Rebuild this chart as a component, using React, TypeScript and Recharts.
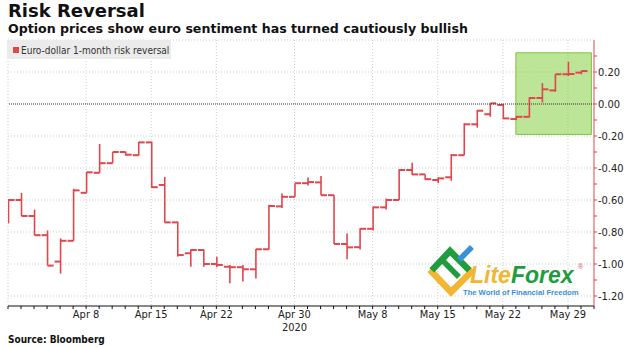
import { ComposedChart, Bar, XAxis, YAxis, CartesianGrid, ReferenceLine, ReferenceArea } from 'recharts';

// one entry per weekday (FX trades every weekday)
const dates = [
  'Mar 31', 'Apr 1', 'Apr 2', 'Apr 3',
  'Apr 6', 'Apr 7', 'Apr 8', 'Apr 9', 'Apr 10',
  'Apr 13', 'Apr 14', 'Apr 15', 'Apr 16', 'Apr 17',
  'Apr 20', 'Apr 21', 'Apr 22', 'Apr 23', 'Apr 24',
  'Apr 27', 'Apr 28', 'Apr 29', 'Apr 30', 'May 1',
  'May 4', 'May 5', 'May 6', 'May 7', 'May 8',
  'May 11', 'May 12', 'May 13', 'May 14', 'May 15',
  'May 18', 'May 19', 'May 20', 'May 21', 'May 22',
  'May 25', 'May 26', 'May 27', 'May 28', 'May 29',
  'Jun 1',
];

const openVals = [
  -0.73, -0.6, -0.7, -0.82,
  -0.985, -0.855, -0.555, -0.43, -0.37,
  -0.3, -0.32, -0.24, -0.506, -0.74,
  -0.933, -0.9125, -1.0, -1.017, -1.02,
  -1.033, -0.908, -0.64, -0.58, -0.495,
  -0.49, -0.57, -0.875, -0.895, -0.78,
  -0.646, -0.6, -0.4125, -0.44, -0.475,
  -0.458, -0.32, -0.127, -0.064, -0.006,
  -0.094, -0.08, 0.0375, 0.085, 0.186,
  0.196,
];
const highVals = [
  -0.595, -0.556, -0.66, -0.79,
  -0.84, -0.53, -0.425, -0.25, -0.3,
  -0.298, -0.237, -0.235, -0.456, -0.735,
  -0.91, -0.91, -0.954, -1.006, -1.006,
  -0.906, -0.63, -0.56, -0.495, -0.46,
  -0.45, -0.57, -0.81, -0.777, -0.64,
  -0.59, -0.408, -0.367, -0.44, -0.458,
  -0.3125, -0.12, -0.0375, 0.004, 0.0,
  -0.075, 0.042, 0.13, 0.1875, 0.264,
  0.21,
];
const lowVals = [
  -0.745, -0.7, -0.82, -1.01,
  -1.06, -0.855, -0.555, -0.43, -0.37,
  -0.323, -0.323, -0.525, -0.742, -0.954,
  -1.017, -1.017, -1.02, -1.12, -1.11,
  -1.09, -0.91, -0.65, -0.58, -0.51,
  -0.57, -0.875, -0.97, -0.91, -0.79,
  -0.66, -0.6, -0.444, -0.475, -0.495,
  -0.48, -0.32, -0.148, -0.08, -0.095,
  -0.1, -0.083, 0.01, 0.077, 0.175,
  0.186,
];
const closeVals = [
  -0.6, -0.7, -0.82, -1.01,
  -0.855, -0.54, -0.427, -0.37, -0.3,
  -0.317, -0.24, -0.52, -0.74, -0.944,
  -0.9125, -1.0, -1.006, -1.02, -1.033,
  -0.908, -0.6375, -0.58, -0.495, -0.488,
  -0.57, -0.875, -0.896, -0.78, -0.646,
  -0.6, -0.4125, -0.44, -0.47, -0.465,
  -0.32, -0.127, -0.042, 0.004, -0.09,
  -0.08, 0.0375, 0.092, 0.186, 0.1875,
  0.206,
];

const labelDates = ['Apr 8', 'Apr 15', 'Apr 22', 'Apr 30', 'May 8', 'May 15', 'May 22', 'May 29'];
const yearLabel = { date: 'Apr 30', text: '2020' };
const yTicks = [-1.2, -1.1, -1.0, -0.9, -0.8, -0.7, -0.6, -0.5, -0.4, -0.3, -0.2, -0.1, 0, 0.1, 0.2, 0.3];
const yGrid = [0.4, 0.2, -0.2, -0.4, -0.6, -0.8, -1.0, -1.2];

// highlighted box (last week of May)
const boxFrom = 'May 25';
const boxDays = 5.8;
const boxLow = -0.19;
const boxHigh = 0.32;

const RED = '#e0474c';
const FONT = "'DejaVu Sans Condensed', 'DejaVu Sans', sans-serif";
const TITLE_FONT = "'DejaVu Sans', sans-serif";

const data = dates.map((d, i) => ({
  i,
  date: d,
  open: openVals[i],
  high: highVals[i],
  low: lowVals[i],
  close: closeVals[i],
}));

const labelIdx = labelDates.map((d) => dates.indexOf(d));
const xTicks = Array.from({ length: dates.length + 1 }, (_, i) => i);
const boxStart = dates.indexOf(boxFrom);

function OhlcShape(props: any) {
  const { x, y, width, height, payload } = props;
  if (x == null || y == null) return null;
  const top = Math.min(y, y + height);
  const h = Math.abs(height);
  const span = payload.high - payload.low || 1;
  const py = (v: number) => top + ((payload.high - v) / span) * h;
  const cx = x + width / 2;
  return (
    <g stroke={RED} fill="none">
      <line x1={cx} x2={cx} y1={top} y2={top + h} strokeWidth={1.6} />
      <line x1={x} x2={cx} y1={py(payload.open)} y2={py(payload.open)} strokeWidth={2} />
      <line x1={cx} x2={x + width} y1={py(payload.close)} y2={py(payload.close)} strokeWidth={2} />
    </g>
  );
}

function XTick(props: any) {
  const { x, y, payload } = props;
  const idx = labelIdx.indexOf(payload.value);
  if (idx < 0) return null;
  const label = labelDates[idx];
  return (
    <g>
      <text x={x} y={y + 7} textAnchor="middle" fontSize={11} fontFamily={FONT} fill="#222">
        {label}
      </text>
      {label === yearLabel.date && (
        <text x={x} y={y + 20} textAnchor="middle" fontSize={11} fontFamily={FONT} fill="#222">
          {yearLabel.text}
        </text>
      )}
    </g>
  );
}

function YTick(props: any) {
  const { x, y, payload } = props;
  const v = Math.round(payload.value * 10);
  if (v % 2 !== 0) return null;
  return (
    <text x={x} y={y + 4} textAnchor="start" fontSize={11} fontFamily={FONT} fill="#222">
      {payload.value.toFixed(2)}
    </text>
  );
}

export default function App() {
  return (
    <div
      style={{
        position: 'absolute',
        left: 0,
        top: 0,
        width: 630,
        height: 347,
        overflow: 'hidden',
        background: '#fff',
      }}
    >
      <ComposedChart
        width={630}
        height={347}
        data={data}
        margin={{ top: 40, right: 6, bottom: 11, left: 8 }}
      >
        <CartesianGrid
          stroke="#cfcfcf"
          strokeDasharray="1 2"
          horizontalValues={yGrid}
          verticalValues={[0, ...labelIdx]}
        />
        <XAxis
          dataKey="i"
          type="number"
          domain={[0, dates.length]}
          ticks={xTicks}
          interval={0}
          allowDataOverflow
          axisLine={{ stroke: '#111' }}
          tickLine={{ stroke: '#111' }}
          tickSize={3}
          height={30}
          tick={<XTick />}
        />
        <YAxis
          orientation="right"
          type="number"
          domain={[-1.2625, 0.4]}
          ticks={yTicks}
          interval={0}
          allowDataOverflow
          axisLine={{ stroke: RED }}
          tickLine={{ stroke: RED }}
          tickSize={3}
          tickMargin={1}
          width={30}
          tick={<YTick />}
        />
        <ReferenceLine y={0} stroke="#333" strokeDasharray="1 1" strokeWidth={1.2} />
        <Bar
          dataKey={(d: any) => [d.low, d.high]}
          barSize={12}
          shape={<OhlcShape />}
          isAnimationActive={false}
        />
        <ReferenceArea
          x1={boxStart}
          x2={boxStart + boxDays}
          y1={boxLow}
          y2={boxHigh}
          fill="#72c925"
          fillOpacity={0.48}
          stroke="#7cc63a"
          strokeOpacity={1}
        />
      </ComposedChart>

      <svg
        width={630}
        height={347}
        style={{ position: 'absolute', left: 0, top: 0, pointerEvents: 'none' }}
      >
        <text x={8} y={17} fontSize={18} fontWeight="bold" fontFamily={TITLE_FONT} fill="#111">
          Risk Reversal
        </text>
        <text x={8} y={33} fontSize={12.6} fontWeight="bold" fontFamily={TITLE_FONT} fill="#111">
          Option prices show euro sentiment has turned cautiously bullish
        </text>

        <rect x={7} y={40} width={164} height={19} fill="#ebebeb" />
        <rect x={13} y={47} width={6} height={6} fill={RED} />
        <text x={21} y={53.5} fontSize={10} fontFamily={FONT} fill="#333">
          Euro-dollar 1-month risk reversal
        </text>

        <text x={8} y={343} fontSize={10} fontWeight="bold" fontFamily={FONT} fill="#111">
          Source: Bloomberg
        </text>

        {/* LiteForex watermark */}
        <g fill="none" strokeLinecap="square">
          <polyline points="432,272 451,292 471,272" stroke="#f2b632" strokeWidth={6.5} />
          <polyline points="434,268 450,251 467,268" stroke="#1f9d3e" strokeWidth={6.5} />
          <line x1={445} y1={263} x2={457} y2={275} stroke="#1f9d3e" strokeWidth={5.5} />
          <line x1={461} y1={258} x2={470} y2={249} stroke="#3a8fd6" strokeWidth={5.5} />
        </g>
        <text x={470} y={283} fontSize={23} fontWeight="bold" fontStyle="italic" fontFamily="'Liberation Sans', sans-serif">
          <tspan fill="#f2b632">Lite</tspan>
          <tspan fill="#1f9d3e">Forex</tspan>
        </text>
        <text x={578} y={269} fontSize={7} fill="#e0474c" fontFamily="'Liberation Sans', sans-serif">®</text>
        <text x={463} y={295} fontSize={7.6} fontWeight="bold" fill="#3a8fd6" fontFamily="'Liberation Sans', sans-serif">
          The World of Financial Freedom
        </text>
      </svg>
    </div>
  );
}
